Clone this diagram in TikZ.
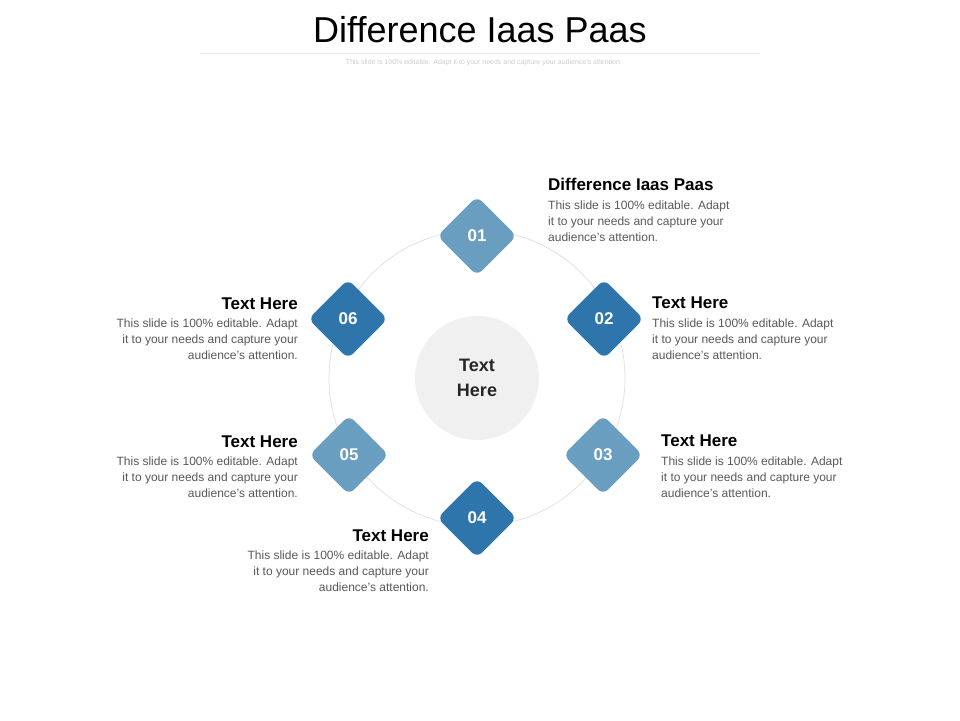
\documentclass[tikz,border=0pt]{standalone}
\usepackage{fontspec}
\setmainfont{Liberation Sans}
\begin{document}
\begin{tikzpicture}[x=1pt,y=-1pt,
  dlight/.style={fill=lightblue},
  ddark/.style={fill=darkblue},
  dia/.style={minimum size=56pt,rotate=45,rounded corners=7pt,inner sep=0pt},
  num/.style={text=white,font=\bfseries\fontsize{17}{20}\selectfont},
  head/.style={font=\bfseries\fontsize{17}{20}\selectfont,inner sep=0pt},
  body/.style={font=\fontsize{12}{16}\selectfont,text=bodygray,inner sep=0pt}]
\definecolor{lightblue}{RGB}{106,158,193}
\definecolor{darkblue}{RGB}{46,117,172}
\definecolor{bodygray}{RGB}{89,89,89}
\useasboundingbox (0,0) rectangle (960,720);
\fill[white] (0,0) rectangle (960,720);
\node[font=\fontsize{36}{40}\selectfont,inner sep=0pt] (title) at (480,30) {Difference Iaas Paas};
\draw[gray!15] (200,53) -- (760,53);
\node[font=\fontsize{7}{8}\selectfont,text=gray!40,inner sep=0pt] (sub) at (484,63) {This slide is 100\% editable. Adapt it to your needs and capture your audience's attention.};
\draw[gray!25,line width=0.7pt] (477,378) circle (148);
\node[circle,fill=gray!12,minimum size=124pt,inner sep=0pt,align=center,font=\bfseries\fontsize{18}{25}\selectfont,text=black!85] (c) at (477,378) {Text\\Here};
\foreach \n/\x/\y/\s in {01/477/236/dlight,02/604/319/ddark,03/603/455/dlight,04/477/518/ddark,05/349/455/dlight,06/348/319/ddark}{
  \node[dia,\s] (d\n) at (\x,\y) {};
  \node[num] (n\n) at (\x,\y) {\n};
}
% right side blocks
\node[head,anchor=base west] (h1) at (548,190) {Difference Iaas Paas};
\node[body,anchor=north west,align=left] (b1) at (548,201) {This slide is 100\% editable. Adapt\\it to your needs and capture your\\audience's attention.};
\node[head,anchor=base west] (h2) at (652,308) {Text Here};
\node[body,anchor=north west,align=left] (b2) at (652,319) {This slide is 100\% editable. Adapt\\it to your needs and capture your\\audience's attention.};
\node[head,anchor=base west] (h3) at (661,446) {Text Here};
\node[body,anchor=north west,align=left] (b3) at (661,457) {This slide is 100\% editable. Adapt\\it to your needs and capture your\\audience's attention.};
% left side blocks
\node[head,anchor=base east] (h6) at (298,309) {Text Here};
\node[body,anchor=north east,align=right] (b6) at (298,319) {This slide is 100\% editable. Adapt\\it to your needs and capture your\\audience's attention.};
\node[head,anchor=base east] (h5) at (298,447) {Text Here};
\node[body,anchor=north east,align=right] (b5) at (298,457) {This slide is 100\% editable. Adapt\\it to your needs and capture your\\audience's attention.};
\node[head,anchor=base east] (h4) at (429,541) {Text Here};
\node[body,anchor=north east,align=right] (b4) at (429,551) {This slide is 100\% editable. Adapt\\it to your needs and capture your\\audience's attention.};
\end{tikzpicture}
\end{document}
